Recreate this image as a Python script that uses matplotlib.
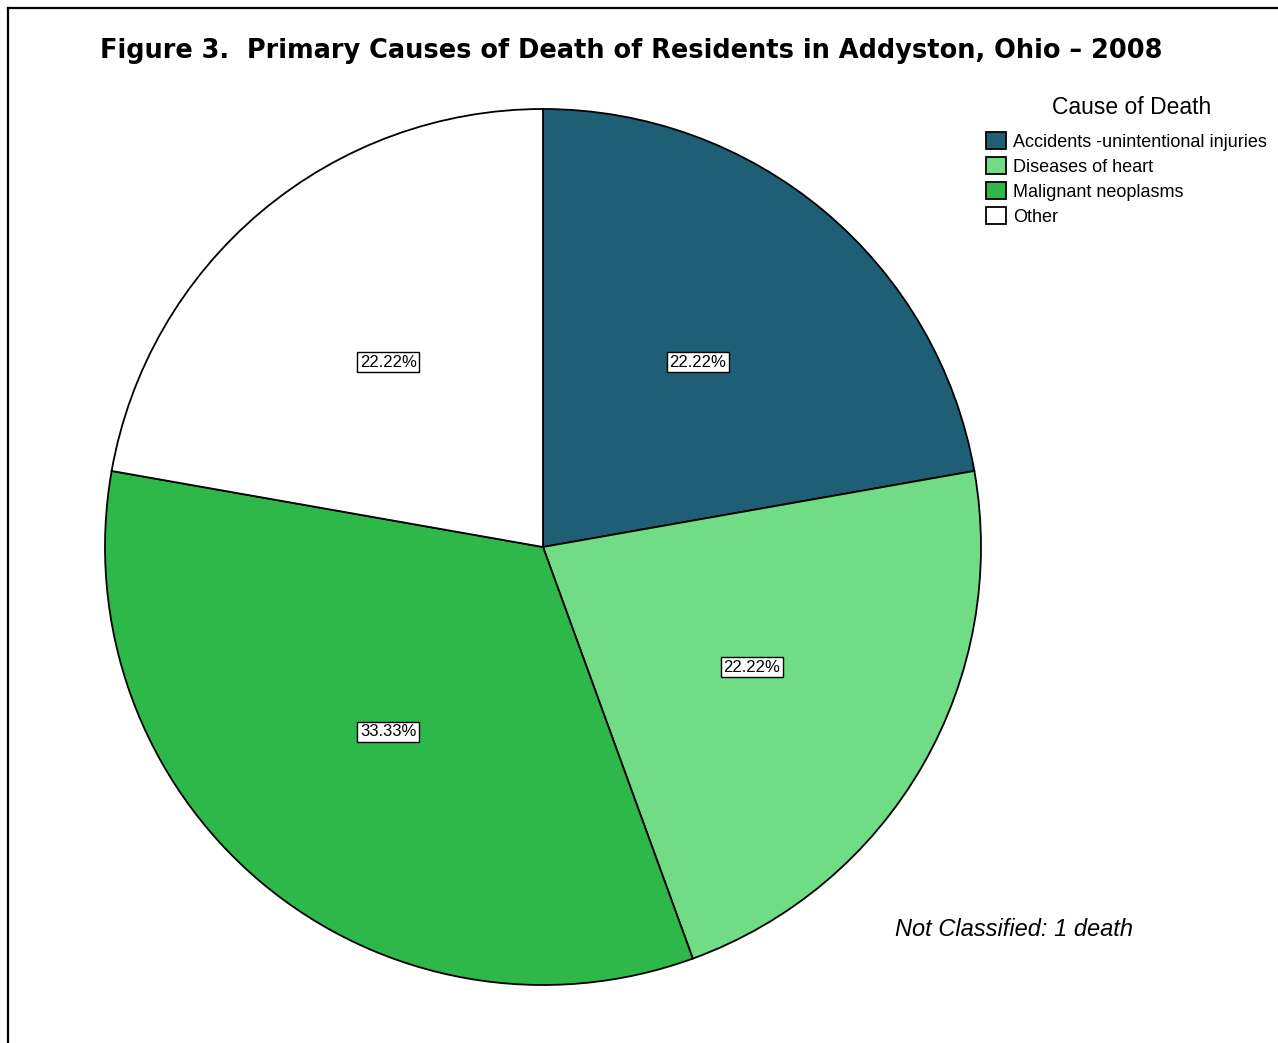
import matplotlib.pyplot as plt
from matplotlib.lines import Line2D

causes = ["Accidents -unintentional injuries", "Diseases of heart",
          "Malignant neoplasms", "Other"]
deaths = [2, 2, 3, 2]
colors = ["#1E5F76", "#70DC86", "#2FB84A", "#FFFFFF"]
title = "Figure 3.  Primary Causes of Death of Residents in Addyston, Ohio \u2013 2008"
legend_title = "Cause of Death"
note = "Not Classified: 1 death"

plt.rcParams['font.family'] = ['Liberation Sans', 'DejaVu Sans']

W, H = 1278, 1043
fig = plt.figure(figsize=(W / 100, H / 100), dpi=100)

# pie axes: centre (543, 547) px, radius 438 px
cx, cy, r = 543, 547, 438
ax = fig.add_axes([(cx - r) / W, 1 - (cy + r) / H, 2 * r / W, 2 * r / H])
wedges, texts, autotexts = ax.pie(
    deaths, colors=colors, startangle=90, counterclock=False,
    autopct='%.2f%%', pctdistance=0.55,
    wedgeprops=dict(edgecolor='black', linewidth=1.3),
    textprops=dict(fontsize=12))
for t in autotexts:
    t.set_bbox(dict(boxstyle='square,pad=0.15', facecolor='white',
                    edgecolor='black', linewidth=1))
ax.set_xlim(-1.0, 1.0)
ax.set_ylim(-1.0, 1.0)
ax.set_aspect('equal')

fig.text(100 / W, 1 - 51 / H, title, fontsize=18.45, fontweight='heavy',
         va='center', ha='left', family='DejaVu Sans')

# legend title drawn separately so the gap to the entries can be set
fig.text(1132 / W, 1 - 107 / H, legend_title, fontsize=16.5,
         ha='center', va='center')
leg = fig.legend(wedges, causes, frameon=False,
                 loc='upper left', bbox_to_anchor=(986 / W, 1 - 132 / H),
                 fontsize=13, handlelength=1.1,
                 handleheight=1.1, handletextpad=0.4, labelspacing=0.34,
                 borderpad=0, borderaxespad=0)

fig.text(1014 / W, 1 - 929 / H, note, fontsize=17, style='italic',
         ha='center', va='center')

# frame lines top and left
fig.add_artist(Line2D([8 / W, 1], [1 - 8 / H, 1 - 8 / H], color='black', lw=1.6,
                      transform=fig.transFigure))
fig.add_artist(Line2D([8 / W, 8 / W], [0, 1 - 8 / H], color='black', lw=1.6,
                      transform=fig.transFigure))

fig.savefig("out.png", dpi=100)
